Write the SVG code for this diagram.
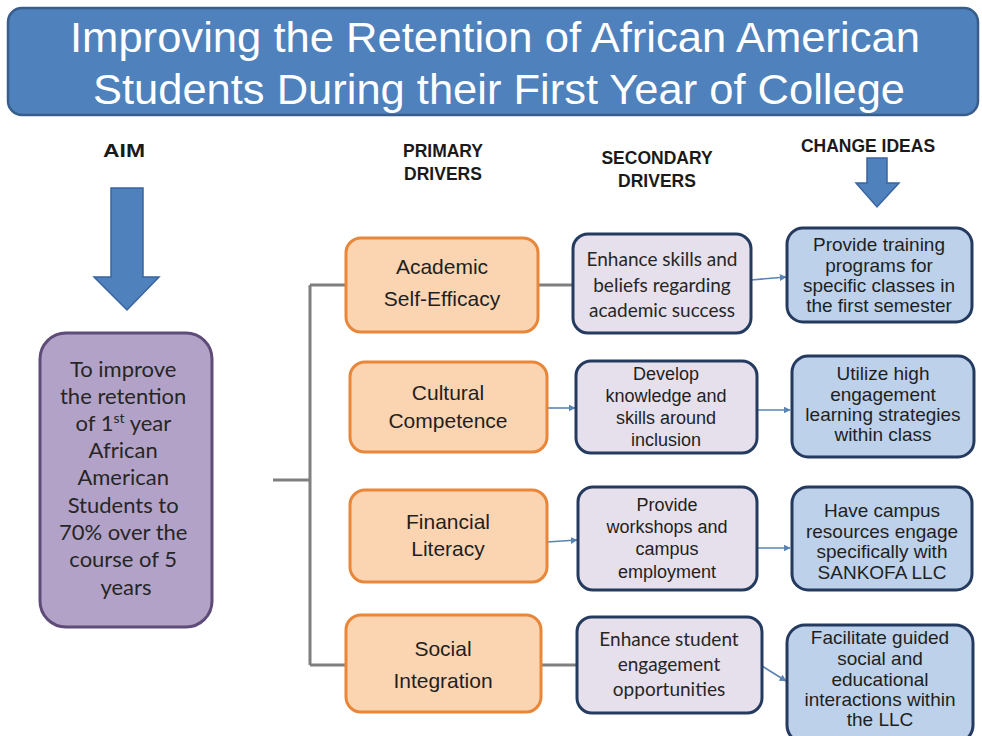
<svg xmlns="http://www.w3.org/2000/svg" width="982" height="736" viewBox="0 0 982 736">
<defs>
<marker id="ah" viewBox="0 0 10 10" refX="9" refY="5" markerWidth="7" markerHeight="7" markerUnits="userSpaceOnUse" orient="auto">
<path d="M0,0 L10,5 L0,10 z" fill="#5A84B5"/>
</marker>
<style>
.banner{fill:#4F81BD;stroke:#385D8A;stroke-width:2.5}
.title{font-family:"Liberation Sans Narrow","Liberation Sans",Arial,sans-serif;font-size:43px;fill:#ffffff;text-anchor:middle}
.hdr{font-family:"Liberation Sans",Arial,sans-serif;font-weight:bold;fill:#1a1a1a;text-anchor:middle}
.bigarrow{fill:#4F81BD;stroke:#3A64A0;stroke-width:1.5}
.aim{fill:#B3A2C7;stroke:#5E4B78;stroke-width:3}
.prim{fill:#FBD4B2;stroke:#E8863A;stroke-width:3}
.sec{fill:#E6E0EC;stroke:#243A5E;stroke-width:3}
.chg{fill:#BDD1EA;stroke:#243A5E;stroke-width:3}
.tcal{font-family:Lato,"Open Sans",sans-serif;fill:#262626;text-anchor:middle}
.tar{font-family:"Liberation Sans",Arial,sans-serif;fill:#1f1f1f;text-anchor:middle}
.tnar{font-family:"Liberation Sans Narrow","Liberation Sans",Arial,sans-serif;fill:#1f1f1f;text-anchor:middle}
.tree{fill:none;stroke:#7F7F7F;stroke-width:3}
.arr{fill:none;stroke:#5A84B5;stroke-width:1.6;marker-end:url(#ah)}
</style>
</defs>
<rect width="982" height="736" fill="#ffffff"/>

<g id="title">
<rect class="banner" x="8" y="8" width="970" height="107" rx="14"/>
<text class="title" x="495" y="52" textLength="850" lengthAdjust="spacingAndGlyphs">Improving the Retention of African American</text>
<text class="title" x="499" y="104" textLength="812" lengthAdjust="spacingAndGlyphs">Students During their First Year of College</text>
</g>

<g id="headers">
<text class="hdr" x="124" y="157" font-size="19" textLength="42" lengthAdjust="spacingAndGlyphs">AIM</text>
<text class="hdr" x="443" y="157" font-size="17.5">PRIMARY</text>
<text class="hdr" x="443" y="180" font-size="17.5">DRIVERS</text>
<text class="hdr" x="657" y="164" font-size="17.5">SECONDARY</text>
<text class="hdr" x="657" y="187" font-size="17.5">DRIVERS</text>
<text class="hdr" x="868" y="152" font-size="17.5">CHANGE IDEAS</text>
</g>

<g id="aim-arrow">
<path class="bigarrow" d="M111,188 L143,188 L143,277 L159,277 L127,310 L94,277 L111,277 Z"/>
</g>
<g id="change-arrow">
<path class="bigarrow" d="M867,158 L887,158 L887,183 L899,183 L877,207 L856,183 L867,183 Z"/>
</g>

<g id="connectors">
<path class="tree" d="M273,480 L310,480 M310,285 L310,665 M310,285 L346,285 M310,665 L346,665"/>
<path class="tree" d="M538,285 L573,285 M541,665 L577,665"/>
<path class="arr" d="M751,280 L786,277"/>
<path class="arr" d="M547,408 L575,408"/>
<path class="arr" d="M757,410 L790,410"/>
<path class="arr" d="M547,542 L577,540"/>
<path class="arr" d="M757,548 L790,548"/>
<path class="arr" d="M762,666 L786,681"/>
</g>

<g id="aim">
<rect class="aim" x="40" y="333" width="172" height="294" rx="26"/>
<text class="tcal" font-size="22">
<tspan x="126" y="377">To improve</tspan>
<tspan x="126" y="404">the retention</tspan>
<tspan x="126" y="431">of 1<tspan font-size="14" dy="-8">st</tspan><tspan dy="8"> year</tspan></tspan>
<tspan x="126" y="458">African</tspan>
<tspan x="126" y="485">American</tspan>
<tspan x="126" y="513">Students to</tspan>
<tspan x="126" y="540">70% over the</tspan>
<tspan x="126" y="567">course of 5</tspan>
<tspan x="126" y="595">years</tspan>
</text>
</g>

<g id="p-academic">
<rect class="prim" x="346" y="238" width="192" height="94" rx="15"/>
<text class="tar" font-size="21"><tspan x="442" y="274">Academic</tspan><tspan x="442" y="306">Self-Efficacy</tspan></text>
</g>
<g id="p-cultural">
<rect class="prim" x="350" y="362" width="197" height="90" rx="15"/>
<text class="tar" font-size="21"><tspan x="448" y="400">Cultural</tspan><tspan x="448" y="428">Competence</tspan></text>
</g>
<g id="p-financial">
<rect class="prim" x="350" y="490" width="197" height="92" rx="15"/>
<text class="tar" font-size="21"><tspan x="448" y="529">Financial</tspan><tspan x="448" y="556">Literacy</tspan></text>
</g>
<g id="p-social">
<rect class="prim" x="346" y="615" width="195" height="97" rx="15"/>
<text class="tar" font-size="21"><tspan x="443" y="656">Social</tspan><tspan x="443" y="688">Integration</tspan></text>
</g>

<g id="s-academic">
<rect class="sec" x="573" y="234" width="178" height="99" rx="15"/>
<text class="tcal" font-size="19"><tspan x="662" y="266">Enhance skills and</tspan><tspan x="662" y="292">beliefs regarding</tspan><tspan x="662" y="317">academic success</tspan></text>
</g>
<g id="s-cultural">
<rect class="sec" x="576" y="361" width="181" height="92" rx="15"/>
<text class="tnar" font-size="18"><tspan x="666" y="380">Develop</tspan><tspan x="666" y="402">knowledge and</tspan><tspan x="666" y="424">skills around</tspan><tspan x="666" y="446">inclusion</tspan></text>
</g>
<g id="s-financial">
<rect class="sec" x="578" y="487" width="179" height="103" rx="15"/>
<text class="tnar" font-size="18"><tspan x="667" y="511">Provide</tspan><tspan x="667" y="533">workshops and</tspan><tspan x="667" y="555">campus</tspan><tspan x="667" y="578">employment</tspan></text>
</g>
<g id="s-social">
<rect class="sec" x="577" y="617" width="185" height="96" rx="15"/>
<text class="tcal" font-size="19"><tspan x="669" y="646">Enhance student</tspan><tspan x="669" y="671">engagement</tspan><tspan x="669" y="696">opportunities</tspan></text>
</g>

<g id="c-training">
<rect class="chg" x="787" y="228" width="185" height="94" rx="16"/>
<text class="tnar" font-size="19"><tspan x="879" y="251">Provide training</tspan><tspan x="879" y="272">programs for</tspan><tspan x="879" y="292">specific classes in</tspan><tspan x="879" y="312">the first semester</tspan></text>
</g>
<g id="c-engagement">
<rect class="chg" x="792" y="356" width="182" height="101" rx="16"/>
<text class="tnar" font-size="19"><tspan x="883" y="380">Utilize high</tspan><tspan x="883" y="401">engagement</tspan><tspan x="883" y="421">learning strategies</tspan><tspan x="883" y="441">within class</tspan></text>
</g>
<g id="c-resources">
<rect class="chg" x="792" y="487" width="180" height="103" rx="16"/>
<text class="tnar" font-size="19"><tspan x="882" y="517">Have campus</tspan><tspan x="882" y="538">resources engage</tspan><tspan x="882" y="558">specifically with</tspan><tspan x="882" y="579">SANKOFA LLC</tspan></text>
</g>
<g id="c-guided">
<rect class="chg" x="787" y="625" width="186" height="118" rx="18"/>
<text class="tnar" font-size="19"><tspan x="880" y="644">Facilitate guided</tspan><tspan x="880" y="665">social and</tspan><tspan x="880" y="686">educational</tspan><tspan x="880" y="706">interactions within</tspan><tspan x="880" y="726">the LLC</tspan></text>
</g>
</svg>
